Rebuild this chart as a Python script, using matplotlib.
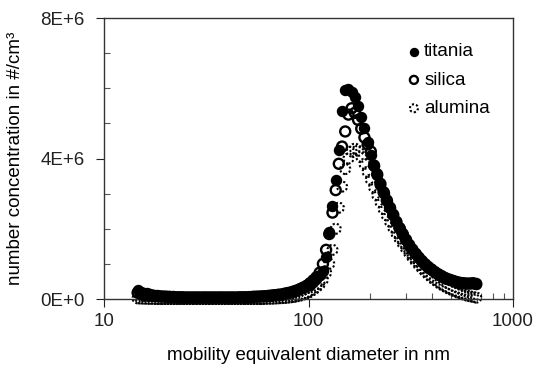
import numpy as np
import matplotlib
matplotlib.use('Agg')
import matplotlib.pyplot as plt
from matplotlib.ticker import FixedLocator, FixedFormatter, LogLocator, NullFormatter

plt.rcParams['font.family'] = ['Liberation Sans', 'DejaVu Sans']

# SMPS channel midpoints (nm)
diameter = [
    14.6, 15.1, 15.7, 16.3, 16.8, 17.5, 18.1, 18.8, 19.5, 20.2,
    20.9, 21.7, 22.5, 23.3, 24.1, 25.0, 25.9, 26.9, 27.9, 28.9,
    30.0, 31.1, 32.2, 33.4, 34.6, 35.9, 37.2, 38.5, 40.0, 41.4,
    42.9, 44.5, 46.1, 47.8, 49.6, 51.4, 53.3, 55.2, 57.3, 59.4,
    61.5, 63.8, 66.1, 68.5, 71.0, 73.7, 76.4, 79.1, 82.0, 85.1,
    88.2, 91.4, 94.7, 98.2, 101.8, 105.5, 109.4, 113.4, 117.6, 121.9,
    126.3, 131.0, 135.8, 140.7, 145.9, 151.2, 156.8, 162.5, 168.5, 174.7,
    181.1, 187.7, 194.6, 201.7, 209.1, 216.7, 224.7, 232.9, 241.4, 250.3,
    259.5, 269.0, 278.8, 289.0, 299.6, 310.6, 322.0, 333.8, 346.0, 358.7,
    371.8, 385.4, 399.5, 414.2, 429.4, 445.1, 461.4, 478.3, 495.8, 514.0,
    532.8, 552.3, 572.5, 593.5, 615.3, 637.8, 661.2,
]

# number concentrations in 1E6 #/cm3
titania = [
    0.25, 0.21, 0.18, 0.16, 0.14, 0.12, 0.11, 0.10, 0.09, 0.085,
    0.08, 0.075, 0.07, 0.07, 0.065, 0.065, 0.06, 0.06, 0.06, 0.06,
    0.06, 0.06, 0.06, 0.06, 0.06, 0.06, 0.06, 0.06, 0.06, 0.06,
    0.06, 0.06, 0.065, 0.065, 0.07, 0.07, 0.075, 0.08, 0.085, 0.09,
    0.095, 0.10, 0.11, 0.12, 0.13, 0.14, 0.16, 0.18, 0.20, 0.23,
    0.26, 0.30, 0.34, 0.40, 0.40, 0.48, 0.58, 0.68, 0.80, 1.20,
    1.92, 2.65, 3.39, 4.25, 5.36, 5.95, 5.97, 5.90, 5.75, 5.50,
    5.19, 4.87, 4.48, 4.10, 3.80, 3.52, 3.26, 3.02, 2.80, 2.58,
    2.38, 2.18, 2.00, 1.83, 1.67, 1.52, 1.39, 1.27, 1.16, 1.06,
    0.97, 0.89, 0.82, 0.76, 0.70, 0.65, 0.61, 0.57, 0.54, 0.51,
    0.49, 0.47, 0.46, 0.45, 0.45, 0.47, 0.44,
]
silica = [
    0.18, 0.15, 0.13, 0.11, 0.10, 0.09, 0.08, 0.075, 0.07, 0.065,
    0.06, 0.055, 0.05, 0.05, 0.05, 0.045, 0.045, 0.045, 0.045, 0.045,
    0.045, 0.045, 0.045, 0.045, 0.045, 0.045, 0.045, 0.045, 0.045, 0.045,
    0.045, 0.045, 0.05, 0.05, 0.05, 0.055, 0.06, 0.065, 0.07, 0.075,
    0.08, 0.09, 0.10, 0.11, 0.12, 0.13, 0.15, 0.17, 0.19, 0.22,
    0.25, 0.29, 0.33, 0.38, 0.45, 0.53, 0.62, 0.75, 1.00, 1.40,
    1.85, 2.46, 3.10, 3.85, 4.34, 4.77, 5.25, 5.43, 5.30, 5.10,
    4.85, 4.60, 4.40, 4.20, 3.80, 3.55, 3.28, 3.04, 2.81, 2.60,
    2.40, 2.20, 2.02, 1.85, 1.69, 1.54, 1.41, 1.29, 1.18, 1.08,
    0.99, 0.91, 0.84, 0.77, 0.71, 0.66, 0.61, 0.57, 0.54, 0.51,
    0.48, 0.46, 0.45, 0.44, 0.44, 0.45, 0.43,
]
alumina = [
    0.02, 0.015, 0.01, 0.01, 0.005, 0.005, 0.0, 0.0, 0.0, 0.0,
    0.0, 0.0, 0.0, 0.0, 0.0, 0.0, 0.0, 0.0, 0.0, 0.0,
    0.0, 0.0, 0.0, 0.0, 0.0, 0.0, 0.0, 0.0, 0.0, 0.0,
    0.0, 0.0, 0.0, 0.0, 0.0, 0.0, 0.0, 0.0, 0.0, 0.0,
    0.005, 0.01, 0.01, 0.015, 0.02, 0.025, 0.03, 0.04, 0.05, 0.06,
    0.08, 0.10, 0.13, 0.16, 0.20, 0.26, 0.33, 0.42, 0.55, 0.75,
    1.00, 1.40, 2.00, 2.60, 3.20, 3.70, 4.00, 4.20, 4.28, 4.22,
    4.05, 3.85, 3.62, 3.40, 3.18, 2.96, 2.76, 2.56, 2.38, 2.20,
    2.03, 1.87, 1.72, 1.58, 1.44, 1.31, 1.19, 1.08, 0.97, 0.87,
    0.78, 0.69, 0.61, 0.54, 0.47, 0.41, 0.36, 0.31, 0.27, 0.23,
    0.19, 0.16, 0.13, 0.10, 0.08, 0.06, 0.04,
]

y_ticks = [0, 4e6, 8e6]
y_labels = ['0E+0', '4E+6', '8E+6']
x_ticks = [10, 100, 1000]
x_labels = ['10', '100', '1000']

d = np.array(diameter)
fig = plt.figure(figsize=(5.37, 3.72), dpi=100)
ax = fig.add_axes([0.1937, 0.1962, 0.7616, 0.7554])

ms = 52
fs = 13.5
ax.scatter(d, np.array(alumina) * 1e6, s=ms, facecolors='none', edgecolors='black',
           linewidths=1.5, linestyle=(0, (1, 1)), label='alumina', zorder=2, clip_on=False)
ax.scatter(d, np.array(titania) * 1e6, s=ms, facecolors='black', edgecolors='black',
           linewidths=1.0, label='titania', zorder=3, clip_on=False)
ax.scatter(d, np.array(silica) * 1e6, s=ms, facecolors='none', edgecolors='black',
           linewidths=1.7, label='silica', zorder=4, clip_on=False)

ax.set_xscale('log')
ax.set_xlim(10, 1000)
ax.set_ylim(0, 8e6)

ax.xaxis.set_major_locator(FixedLocator(x_ticks))
ax.xaxis.set_major_formatter(FixedFormatter(x_labels))
ax.xaxis.set_minor_locator(LogLocator(base=10, subs=np.arange(2, 10)))
ax.xaxis.set_minor_formatter(NullFormatter())
ax.yaxis.set_major_locator(FixedLocator(y_ticks))
ax.yaxis.set_major_formatter(FixedFormatter(y_labels))
ax.yaxis.set_minor_locator(FixedLocator(np.arange(0, 8.1e6, 1e6)))

ax.tick_params(which='major', direction='out', length=6, width=0.8, labelsize=fs, colors='#222222')
ax.tick_params(which='minor', direction='in', length=4, width=0.8, color='#555555')
ax.tick_params(axis='y', which='major', pad=8)
ax.tick_params(axis='x', which='major', pad=4)
for sp in ax.spines.values():
    sp.set_linewidth(1.0)
    sp.set_color('#333333')

ax.set_xlabel('mobility equivalent diameter in nm', fontsize=fs, labelpad=12)
ax.set_ylabel('number concentration in #/cm³', fontsize=fs, labelpad=12)

handles, labels = ax.get_legend_handles_labels()
order = [1, 2, 0]
ax.legend([handles[i] for i in order], [labels[i] for i in order],
          loc='upper right', bbox_to_anchor=(0.985, 0.97), frameon=False,
          fontsize=fs, handletextpad=0.05, labelspacing=0.6, handlelength=1.0,
          scatterpoints=1, markerscale=0.8)

fig.savefig('out.png', dpi=100)
